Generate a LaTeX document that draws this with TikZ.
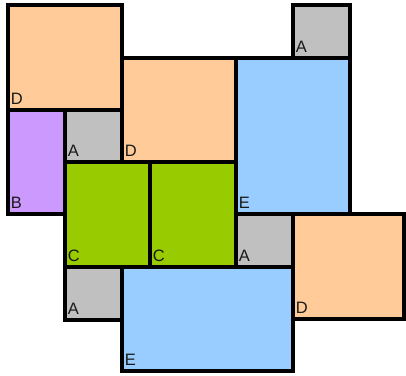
\documentclass[tikz,border=0pt]{standalone}
\usepackage{fontspec}
\setmainfont{Liberation Sans}
\definecolor{peach}{HTML}{FFCC99}
\definecolor{grayA}{HTML}{C0C0C0}
\definecolor{blueE}{HTML}{99CCFF}
\definecolor{purpleB}{HTML}{CC99FF}
\definecolor{greenC}{HTML}{99CC00}
\tikzset{
  boxfill/.style={fill=#1},
  boxline/.style={draw=black, line width=4pt},
  lab/.style={anchor=base west, inner sep=0pt, font=\fontsize{16.5}{16.5}\selectfont, text=black!90}
}
\newcommand{\boxdata}{%
  8/5/122/110/peach/D/d1,
  293/5/350/58/grayA/A/a1,
  122/58/236/162/peach/D/d2,
  236/58/350/214/blueE/E/e1,
  8/110/65/214/purpleB/B/b1,
  65/110/122/162/grayA/A/a2,
  65/162/150/267/greenC/C/c1,
  150/162/236/267/greenC/C/c2,
  236/214/293/267/grayA/A/a3,
  293/214/404/319/peach/D/d3,
  65/267/122/320/grayA/A/a4,
  122/267/293/371/blueE/E/e2}
\begin{document}
\begin{tikzpicture}[x=1pt,y=-1pt]
\useasboundingbox (0,0) rectangle (406,375);
\foreach \xa/\ya/\xb/\yb/\col/\txt/\nm in \boxdata {
  \path[boxfill=\col] (\xa,\ya) rectangle (\xb,\yb);
}
\foreach \xa/\ya/\xb/\yb/\col/\txt/\nm in \boxdata {
  \draw[boxline] (\xa,\ya) rectangle (\xb,\yb);
  \node[lab] (\nm) at (\xa+2.7,\yb-6) {\txt};
}
\end{tikzpicture}
\end{document}
